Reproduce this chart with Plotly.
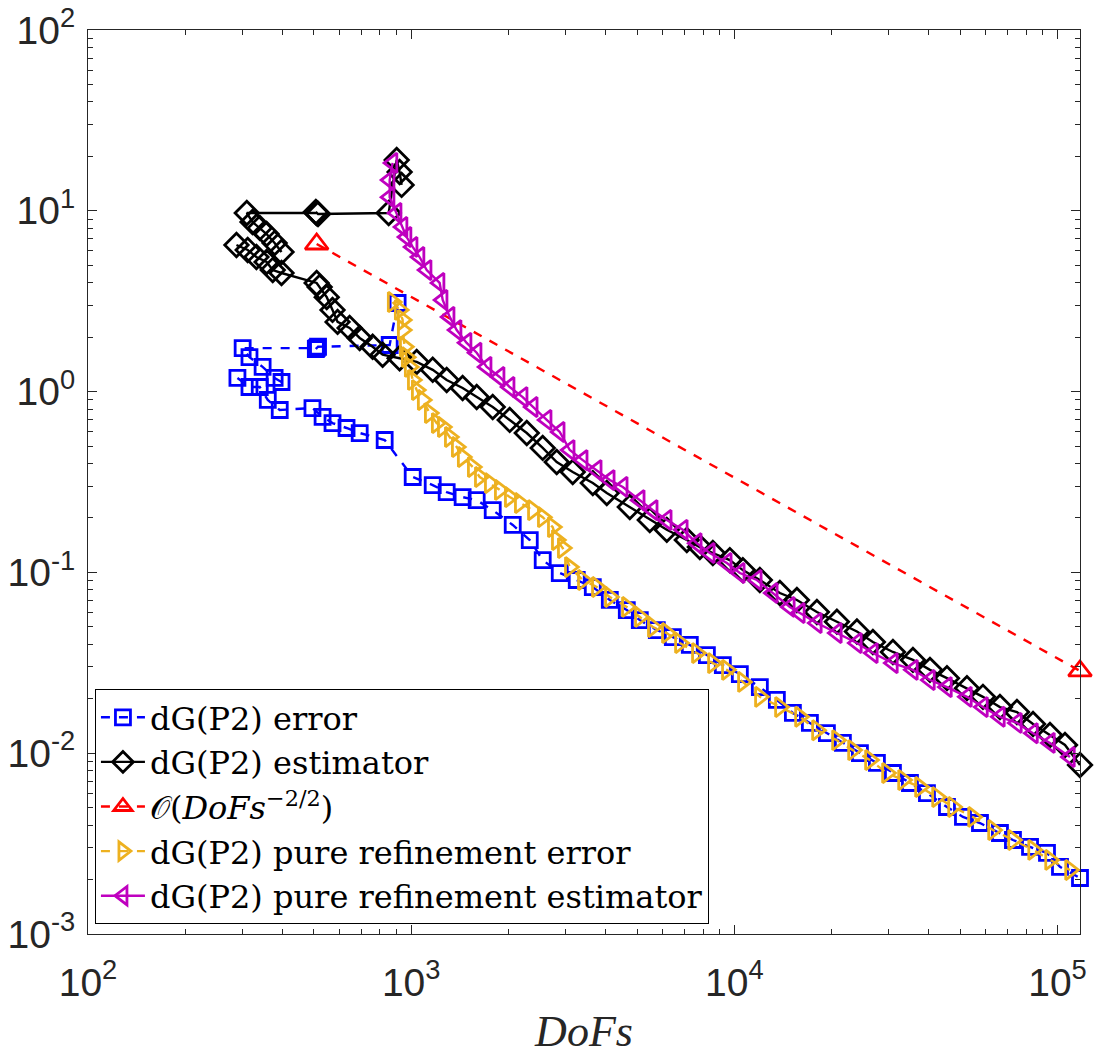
import math
import plotly.graph_objects as go

# ---------------- data ----------------
# None separates disconnected pieces of the same series
err_dofs = [397, 378, 347, 316, 301, 510, 507, 515, 858, 908, None,
            290, 316, 340, 360, 392, 495, 532, 571, 631, 693, 828, 1011, 1166, 1288,
            1443, 1595, 1788, 2062, 2328, 2553, 2883, 3254, 3648, 4118, 4648, 5099,
            5756, 6452, 7282, 8224, 9213, 10400, 11994, 13540, 15178, 17133, 19340,
            21673, 24470, 27620, 30960, 34950, 39450, 45500, 50990, 57560, 66370,
            72810, 82230, 92790, 101800, 117400]
err_vals = [1.13, 1.19, 1.37, 1.55, 1.74, 1.74, 1.72, 1.77, 1.81, 3.09, None,
            1.19, 1.06, 1.06, 0.899, 0.791, 0.811, 0.724, 0.670, 0.629, 0.590, 0.540,
            0.337, 0.304, 0.278, 0.261, 0.251, 0.221, 0.183, 0.151, 0.117, 0.0992,
            0.0908, 0.0830, 0.0704, 0.0619, 0.0545, 0.0480, 0.0439, 0.0397, 0.0349,
            0.0307, 0.0274, 0.0232, 0.0197, 0.0167, 0.0147, 0.0129, 0.0114, 0.0100,
            0.00883, 0.00777, 0.00684, 0.00602, 0.00504, 0.00444, 0.00411, 0.00362,
            0.00331, 0.00303, 0.00281, 0.00235, 0.00204]

est_dofs = [397, 378, 357, 340, 323, 310, 510, 507, 515, 852, 902, 921, 934, None,
            288, 312, 332, 357, 373, 397, 510, 521, 548, 571, 592, 645, 693, 760, 816,
            921, 1040, 1166, 1288, 1443, 1595, 1788, 2018, 2279, 2553, 2821, 3162,
            3648, 4030, 4749, 5475, 6181, 7128, 7822, 8580, 9685, 10625, 11994, 13833,
            15617, 18009, 20769, 23955, 26840, 30960, 35700, 40310, 45500, 52460,
            58800, 66370, 74910, 84000, 94800, 105500, 117400]
est_vals = [5.92, 6.63, 7.44, 8.04, 8.67, 9.72, 9.72, 9.85, 9.60, 9.72, 19.1, 16.4, 13.9, None,
            6.47, 6.07, 5.55, 5.21, 4.70, 4.53, 3.99, 3.79, 3.33, 2.83, 2.43, 2.25,
            1.98, 1.77, 1.60, 1.53, 1.46, 1.32, 1.16, 1.047, 0.933, 0.822, 0.697,
            0.590, 0.488, 0.408, 0.359, 0.312, 0.275, 0.230, 0.195, 0.172, 0.151,
            0.138, 0.128, 0.117, 0.103, 0.0908, 0.0769, 0.0704, 0.0604, 0.0534,
            0.0471, 0.0412, 0.0363, 0.0328, 0.0289, 0.0260, 0.0229, 0.0205, 0.0180,
            0.0169, 0.0145, 0.0126, 0.0111, 0.00861]

rate_dofs = [510, 117400]
rate_vals = [6.55, 0.0285]

pure_err_dofs = [876, 921, 941, 941, 955, 968, 989, 1011, 1040, 1085, 1141, 1199, 1252,
                 1316, 1383, 1443, 1550, 1630, 1750, 1879, 2018, 2167, 2379, 2553, 2742,
                 2821, 2944, 3096, 3396, 3753, 4118, 4648, 5099, 5593, 6181, 6783, 7655,
                 8580, 9479, 10625, 11994, 13833, 15955, 18009, 20769, 23280, 26270,
                 29660, 33250, 37520, 42370, 47480, 54760, 63140, 72810, 84000, 94800,
                 109300]
pure_err_vals = [3.13, 2.83, 2.49, 2.19, 1.77, 1.55, 1.37, 1.16, 1.02, 0.899, 0.761,
                 0.670, 0.637, 0.561, 0.494, 0.435, 0.383, 0.337, 0.312, 0.286, 0.261,
                 0.242, 0.221, 0.202, 0.178, 0.151, 0.1365, 0.107, 0.0908, 0.0830,
                 0.0731, 0.0644, 0.0567, 0.0499, 0.0462, 0.0407, 0.0358, 0.0315, 0.0289,
                 0.0248, 0.0205, 0.0180, 0.0159, 0.0134, 0.0118, 0.0104, 0.00917,
                 0.00777, 0.00711, 0.00650, 0.00572, 0.00504, 0.00444, 0.00376, 0.00331,
                 0.00292, 0.00257, 0.00226]

pure_est_dofs = [876, 858, 858, 902, 941, 968, 1011, 1062, 1117, 1225, 1252, 1316, 1383,
                 1485, 1595, 1713, 1879, 2018, 2214, 2379, 2627, 2883, 3096, 3396, 3753,
                 4118, 4517, 5099, 5593, 6181, 6930, 7655, 8400, 9479, 10400, 11740,
                 13158, 14856, 15955, 18009, 20769, 23955, 26840, 30960, 35700, 40310,
                 45500, 52460, 58800, 66370, 74910, 84000, 94800, 109300]
pure_est_vals = [18.4, 14.8, 11.9, 9.72, 8.14, 7.16, 6.31, 5.55, 4.70, 3.99, 3.21, 2.59,
                 2.19, 1.86, 1.64, 1.37, 1.205, 1.06, 0.933, 0.822, 0.697, 0.598, 0.475,
                 0.418, 0.368, 0.324, 0.297, 0.251, 0.221, 0.195, 0.172, 0.145, 0.128,
                 0.1127, 0.0992, 0.0908, 0.0769, 0.0644, 0.0596, 0.0525, 0.0462, 0.0407,
                 0.0358, 0.0315, 0.0289, 0.0254, 0.0232, 0.0205, 0.0180, 0.0159, 0.0147,
                 0.0129, 0.0114, 0.00953]

x_tick_vals = [1e2, 1e3, 1e4, 1e5]
x_tick_text = ["10<sup>2</sup>", "10<sup>3</sup>", "10<sup>4</sup>", "10<sup>5</sup>"]
y_tick_vals = [1e-3, 1e-2, 1e-1, 1e0, 1e1, 1e2]
y_tick_text = ["10<sup>-3</sup>", "10<sup>-2</sup>", "10<sup>-1</sup>",
               "10<sup>0</sup>", "10<sup>1</sup>", "10<sup>2</sup>"]

names = ["dG(P2) error", "dG(P2) estimator", "𝒪(<i>DoFs</i><sup>−2/2</sup>)",
         "dG(P2) pure refinement error", "dG(P2) pure refinement estimator"]

# ---------------- figure ----------------
AX = "#262626"
fig = go.Figure()

def add(x, y, name, color, dash, symbol, size, i):
    fig.add_trace(go.Scatter(
        x=x, y=y, name=name, mode="lines+markers", connectgaps=False,
        legendgroup=f"g{i}", cliponaxis=False,
        line=dict(color=color, width=2.4, dash=dash),
        marker=dict(symbol=symbol, size=size, color=color,
                    line=dict(color=color, width=2.8)),
    ))

add(err_dofs, err_vals, names[0], "#0000FF", "dash", "square-open", 15, 0)
add(est_dofs, est_vals, names[1], "#000000", "solid", "diamond-open", 18, 1)
add(rate_dofs, rate_vals, names[2], "#FF0000", "dash", "triangle-up-open", 20, 2)
add(pure_err_dofs, pure_err_vals, names[3], "#EDB120", "dash", "triangle-right-open", 17, 3)
add(pure_est_dofs, pure_est_vals, names[4], "#BF00BF", "solid", "triangle-left-open", 17, 4)

xmax = max(v for v in err_dofs if v is not None)

common = dict(
    type="log", tickmode="array",
    ticks="inside", ticklen=9, tickwidth=1, tickcolor=AX,
    minor=dict(ticks="inside", ticklen=5, tickwidth=1, tickcolor=AX, dtick="D1"),
    showline=True, linecolor=AX, linewidth=1, mirror="ticks",
    showgrid=False, zeroline=False, automargin=False,
    tickfont=dict(family="Liberation Sans", size=39, color=AX),
)
fig.update_xaxes(
    range=[2, math.log10(xmax)], tickvals=x_tick_vals, ticktext=x_tick_text,
    ticklabelstandoff=14,
    title=dict(text="<i>DoFs</i>", font=dict(family="Liberation Serif", size=44, color=AX),
               standoff=12),
    **common,
)
fig.update_yaxes(
    range=[-3, 2], tickvals=y_tick_vals, ticktext=y_tick_text,
    ticklabelstandoff=4,
    **common,
)

fig.update_layout(
    width=1118, height=1058,
    margin=dict(l=88, r=38, t=30, b=124),
    paper_bgcolor="white", plot_bgcolor="white",
    showlegend=True,
    legend=dict(
        x=0.007, y=0.271, xanchor="left", yanchor="top",
        bgcolor="white", bordercolor="#000000", borderwidth=1,
        font=dict(family="DejaVu Serif", size=32, color="#000000"),
        traceorder="grouped", tracegroupgap=0, itemwidth=44,
    ),
)

fig.write_html(
    "out.html",
    config={"displayModeBar": False},
    post_script="document.body.style.margin='0';document.body.style.overflow='hidden';",
)
